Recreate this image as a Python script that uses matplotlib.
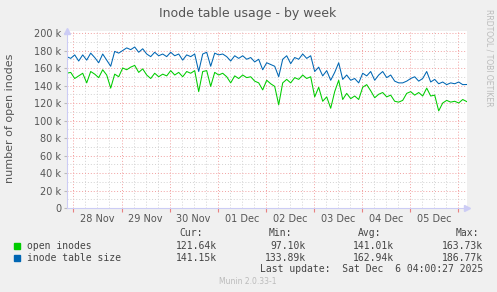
import matplotlib
matplotlib.use("Agg")
import matplotlib.pyplot as plt
import matplotlib.dates as mdates
from matplotlib.patches import Rectangle
from matplotlib.ticker import MultipleLocator, FuncFormatter
import pandas as pd

# values in thousands, one sample every ~2 hours over the week
inode_table_size = [
    173, 171, 175, 168, 175, 169, 177, 172, 166, 176, 169, 162, 179, 177, 180, 183, 181,
    184, 178, 182, 176, 173, 178, 174, 176, 173, 178, 174, 176, 169, 175, 173, 176, 156,
    176, 178, 162, 177, 175, 176, 173, 168, 174, 171, 174, 170, 172, 167, 170, 158, 166,
    164, 162, 150, 170, 174, 165, 172, 170, 176, 171, 174, 156, 161, 151, 157, 146, 155,
    166, 147, 152, 146, 148, 143, 154, 151, 156, 146, 152, 156, 149, 152, 145, 143, 143,
    145, 148, 150, 145, 148, 156, 144, 147, 142, 144, 141, 143, 142, 144, 141, 141.15,
]
open_inodes = [
    154, 155, 148, 151, 154, 143, 156, 153, 149, 158, 152, 137, 153, 150, 160, 158, 161,
    163, 155, 159, 152, 148, 154, 150, 153, 151, 157, 152, 155, 150, 156, 154, 157, 133,
    156, 157, 139, 155, 152, 154, 150, 143, 151, 148, 152, 149, 150, 145, 143, 135, 146,
    142, 139, 118, 143, 147, 143, 149, 147, 152, 148, 150, 127, 138, 122, 127, 114, 133,
    146, 124, 131, 125, 128, 124, 138, 141, 134, 126, 130, 132, 127, 129, 122, 121, 123,
    131, 133, 129, 132, 128, 137, 128, 129, 111, 120, 123, 121, 122, 120, 124, 121.64,
]

series_names = ["open inodes", "inode table size"]
series_colors = ["#00CC00", "#0066B3"]
cur_vals = ["121.64k", "141.15k"]
min_vals = ["97.10k", "133.89k"]
avg_vals = ["141.01k", "162.94k"]
max_vals = ["163.73k", "186.77k"]

start = pd.Timestamp("2025-11-27 20:40")
end = pd.Timestamp("2025-12-06 04:10")
times = pd.date_range(start, end, periods=len(open_inodes))

W, H = 497, 292


def fx(x):
    return x / W


def fy(y):
    return 1 - y / H


fig = plt.figure(figsize=(W / 100, H / 100), dpi=100, facecolor="#F0F0F0")
ax = fig.add_axes([fx(66.7), fy(208), 400 / W, 177 / H])
ax.set_facecolor("white")

ax.plot(times, [v * 1000 for v in inode_table_size], color=series_colors[1], lw=0.75)
ax.plot(times, [v * 1000 for v in open_inodes], color=series_colors[0], lw=0.75)

ax.set_xlim(start, end)
ax.set_ylim(0, 202300)

ax.yaxis.set_major_locator(MultipleLocator(20000))
ax.yaxis.set_minor_locator(MultipleLocator(10000))
ax.yaxis.set_major_formatter(
    FuncFormatter(lambda v, p: "0" if v == 0 else "%d k" % (v / 1000)))

ax.xaxis.set_major_locator(mdates.DayLocator())
ax.xaxis.set_major_formatter(FuncFormatter(lambda v, p: ""))
ax.xaxis.set_minor_locator(mdates.HourLocator(byhour=[6, 12, 18]))


def noon_label(v, p):
    d = mdates.num2date(v)
    return d.strftime("%d %b") if d.hour == 12 else ""


ax.xaxis.set_minor_formatter(FuncFormatter(noon_label))

dots = (0, (1, 2))
ax.grid(True, which="major", color="#F2A0A0", lw=0.7, linestyle=dots)
ax.grid(True, which="minor", color="#D2D2D2", lw=0.7, linestyle=dots)
ax.set_axisbelow(True)

ax.tick_params(axis="x", which="major", length=3, color="#E88080", direction="out")
ax.tick_params(axis="x", which="minor", length=0, pad=4, labelsize=7,
               labelcolor="#555555")
ax.tick_params(axis="y", which="major", length=2, color="#BBBBBB", pad=2,
               labelsize=7, labelcolor="#555555")
ax.tick_params(axis="y", which="minor", length=0)

for s in ["top", "right"]:
    ax.spines[s].set_visible(False)
for s in ["left", "bottom"]:
    ax.spines[s].set_color("#CCCCF5")
    ax.spines[s].set_linewidth(0.8)
ax.plot([0], [1.0], marker="^", color="#CCCCF5", ms=4, transform=ax.transAxes,
        clip_on=False)
ax.plot([1.0], [0], marker=">", color="#CCCCF5", ms=4, transform=ax.transAxes,
        clip_on=False)

fig.text(fx(248), fy(13), "Inode table usage - by week", ha="center", va="center",
         fontsize=9, color="#555555")
fig.text(fx(10), fy(118), "number of open inodes", rotation=90, ha="center",
         va="center", fontsize=8, color="#555555")
fig.text(fx(489), fy(58), "RRDTOOL / TOBI OETIKER", rotation=270, ha="center",
         va="center", fontsize=5.5, color="#BBBBBB")

mono = "DejaVu Sans Mono"
for x, hdr in zip([203, 292, 381, 479], ["Cur:", "Min:", "Avg:", "Max:"]):
    fig.text(fx(x), fy(233), hdr, ha="right", va="center", fontsize=7,
             family=mono, color="#444444")

rows = [245.7, 257.7]
for i, name in enumerate(series_names):
    y = rows[i]
    fig.add_artist(Rectangle((fx(14), fy(y + 3)), 6 / W, 6 / H,
                             color=series_colors[i], transform=fig.transFigure))
    fig.text(fx(27), fy(y), name, ha="left", va="center", fontsize=7, family=mono,
             color="#444444")
    for x, vals in zip([217, 306, 394, 483], [cur_vals, min_vals, avg_vals, max_vals]):
        fig.text(fx(x), fy(y), vals[i], ha="right", va="center", fontsize=7,
                 family=mono, color="#444444")

fig.text(fx(483), fy(269.5), "Last update:  Sat Dec  6 04:00:27 2025", ha="right",
         va="center", fontsize=7, family=mono, color="#444444")
fig.text(fx(248), fy(281.5), "Munin 2.0.33-1", ha="center", va="center",
         fontsize=5.5, color="#BBBBBB")

fig.savefig("out.png", dpi=100, facecolor=fig.get_facecolor())
